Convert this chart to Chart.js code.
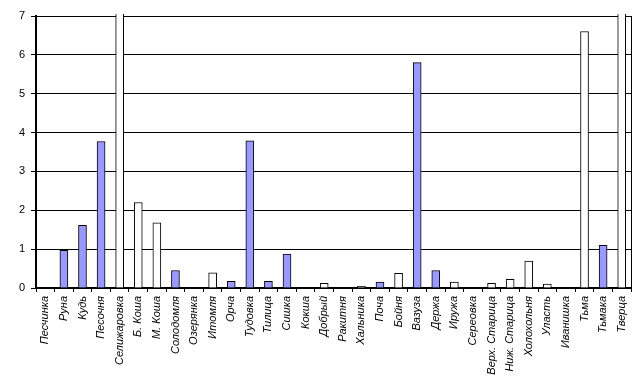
<!DOCTYPE html>
<html>
<head>
<meta charset="utf-8">
<script src="https://cdn.jsdelivr.net/npm/chart.js@4"></script>
<style>
html,body{margin:0;padding:0;background:#fff;}
#wrap{width:639px;height:387px;}
</style>
</head>
<body>
<div id="wrap"><canvas id="c" width="639" height="387"></canvas></div>
<script>
const categories = ["Песчинка","Руна","Кудь","Песочня","Селижаровка","Б. Коша","М. Коша","Солодомля","Озерянка","Итомля","Орча","Тудовка","Тилица","Сишка","Кокша","Добрый","Ракитня","Хальника","Поча","Бойня","Вазуза","Держа","Иружа","Сереовка","Верх. Старица","Ниж. Старица","Холохольня","Уласть","Иванишка","Тьма","Тьмака","Тверца"];
const filledValues = [null,0.97,1.61,3.77,null,null,null,0.45,null,null,0.17,3.79,0.17,0.87,null,null,null,null,0.15,null,5.80,0.45,null,null,null,null,null,null,null,null,1.10,null];
const openValues = [null,null,null,null,8,2.20,1.68,null,null,0.39,null,null,null,null,null,0.12,null,0.04,null,0.38,null,null,0.15,null,0.12,0.22,0.69,0.10,null,6.60,null,8];
const yTicks = [0,1,2,3,4,5,6,7];

const ctx = document.getElementById('c');
new Chart(ctx, {
  type: 'bar',
  data: {
    labels: categories,
    datasets: [
      {data: filledValues, backgroundColor: '#9999FF', borderColor: '#000', borderWidth: 1, barThickness: 8, grouped: false, clip: 2, borderSkipped: 'bottom'},
      {data: openValues, backgroundColor: '#FFFFFF', borderColor: '#000', borderWidth: 1, barThickness: 8, grouped: false, clip: 2, borderSkipped: 'bottom'}
    ]
  },
  options: {
    responsive: false,
    animation: false,
    layout: {padding: {top: 16, right: 0, left: 0, bottom: 0}},
    plugins: {legend: {display: false}, tooltip: {enabled: false}},
    scales: {
      x: {
        offset: true,
        grid: {display: true, drawOnChartArea: false, drawTicks: true, tickLength: 4, color: '#000', lineWidth: 1},
        border: {display: true, color: '#000', width: 2},
        ticks: {
          color: '#000', autoSkip: false, maxRotation: 90, minRotation: 90, padding: 4,
          font: {family: '"Liberation Sans", Arial, sans-serif', size: 11, style: 'italic'}
        },
        afterFit: (s) => { s.height = 99; }
      },
      y: {
        min: 0, max: 7,
        afterBuildTicks: (s) => { s.ticks = yTicks.map(v => ({value: v})); },
        grid: {color: '#000', lineWidth: 1, drawTicks: true, tickLength: 5},
        border: {display: true, color: '#000', width: 2},
        ticks: {color: '#000', padding: 6, font: {family: '"Liberation Sans", Arial, sans-serif', size: 11}},
        afterFit: (s) => { s.width = 36; }
      },
      y2: {
        position: 'right', min: 0, max: 7,
        grid: {display: false, drawOnChartArea: false},
        border: {display: true, color: '#000', width: 1},
        ticks: {display: false},
        afterFit: (s) => { s.width = 6; }
      }
    }
  }
});
</script>
</body>
</html>
